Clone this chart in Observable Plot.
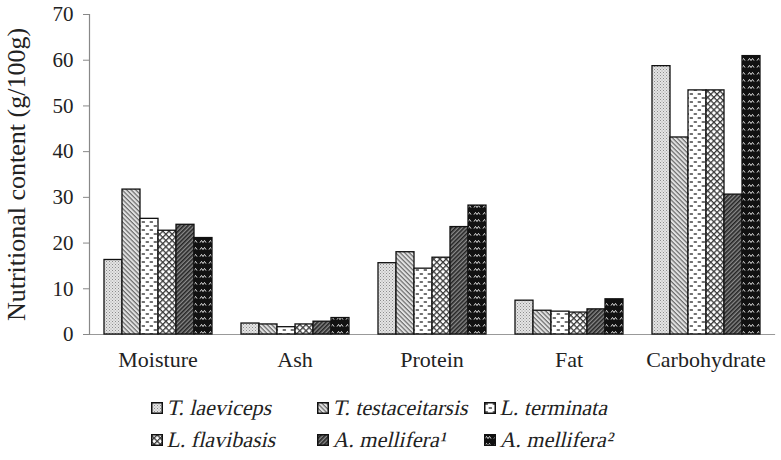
<!DOCTYPE html>
<html>
<head>
<meta charset="utf-8">
<script src="https://cdn.jsdelivr.net/npm/d3@7"></script>
<script src="https://cdn.jsdelivr.net/npm/@observablehq/plot@0.6"></script>
<style>
  html, body { margin: 0; padding: 0; background: #fff; }
  body { width: 781px; height: 460px; overflow: hidden; font-family: "Liberation Serif", "Times New Roman", serif; color: #222; }
  #legend { display: grid; grid-template-columns: 166px 167px 166px; grid-auto-rows: 32px; padding: 12px 0 0 151px; }
  .item { display: flex; align-items: center; font-family: "Liberation Serif", serif; font-size: 22px; white-space: nowrap; }
  .item svg { margin-right: 5px; flex: none; }
  .item span { display: inline-block; transform: skewX(-13deg); }
</style>
</head>
<body>
<svg width="0" height="0" style="position:absolute">
  <defs>
    <pattern id="p1" patternUnits="userSpaceOnUse" width="3" height="3">
      <rect width="3" height="3" fill="#e4e4e4"/>
      <rect x="0" y="0" width="1" height="1" fill="#8c8c8c"/>
      <rect x="1.5" y="1.5" width="1" height="1" fill="#a0a0a0"/>
    </pattern>
    <pattern id="p2" patternUnits="userSpaceOnUse" width="3.2" height="3.2" patternTransform="rotate(45)">
      <rect width="3.2" height="3.2" fill="#e2e2e2"/>
      <rect width="3.2" height="1.2" fill="#6a6a6a"/>
    </pattern>
    <pattern id="p3" patternUnits="userSpaceOnUse" width="8" height="8">
      <rect width="8" height="8" fill="#fff"/>
      <rect x="0.5" y="1.2" width="3.6" height="1.6" rx="0.7" fill="#444"/>
      <rect x="4.5" y="5.2" width="3.6" height="1.6" rx="0.7" fill="#444"/>
    </pattern>
    <pattern id="p4" patternUnits="userSpaceOnUse" width="4.4" height="4.4" patternTransform="rotate(45)">
      <rect width="4.4" height="4.4" fill="#fff"/>
      <rect width="4.4" height="1.3" fill="#3a3a3a"/>
      <rect width="1.3" height="4.4" fill="#3a3a3a"/>
    </pattern>
    <pattern id="p5" patternUnits="userSpaceOnUse" width="3" height="3" patternTransform="rotate(-45)">
      <rect width="3" height="3" fill="#8a8a8a"/>
      <rect width="3" height="1.6" fill="#252525"/>
    </pattern>
    <pattern id="p6" patternUnits="userSpaceOnUse" width="9" height="7">
      <rect width="9" height="7" fill="#111"/>
      <polyline points="1,4.6 2.5,2.4 4,4.6 5.5,2.4 7,4.6" fill="none" stroke="#ddd" stroke-width="1"/>
    </pattern>
  </defs>
</svg>
<div id="chart"></div>
<div id="legend"></div>
<script>
const categories = ["Moisture", "Ash", "Protein", "Fat", "Carbohydrate"];
const species = ["T. laeviceps", "T. testaceitarsis", "L. terminata", "L. flavibasis", "A. mellifera¹", "A. mellifera²"];
const tLaeviceps      = [16.3, 2.4, 15.6, 7.4, 58.7];
const tTestaceitarsis = [31.7, 2.2, 18.0, 5.2, 43.1];
const lTerminata      = [25.3, 1.6, 14.4, 5.0, 53.4];
const lFlavibasis     = [22.7, 2.2, 16.8, 4.8, 53.4];
const aMellifera1     = [24.0, 2.8, 23.5, 5.5, 30.6];
const aMellifera2     = [21.1, 3.6, 28.2, 7.7, 60.9];
const yTicks = [0, 10, 20, 30, 40, 50, 60, 70];
const yLabel = "Nutritional content (g/100g)";

const seriesValues = [tLaeviceps, tTestaceitarsis, lTerminata, lFlavibasis, aMellifera1, aMellifera2];
const patterns = ["url(#p1)", "url(#p2)", "url(#p3)", "url(#p4)", "url(#p5)", "url(#p6)"];

const data = categories.flatMap((c, i) =>
  species.map((s, j) => ({category: c, species: s, value: seriesValues[j][i]})));

const chart = Plot.plot({
  width: 781,
  height: 380,
  marginLeft: 88,
  marginRight: 6,
  marginTop: 14,
  marginBottom: 46,
  style: {fontFamily: "'Liberation Serif', 'Times New Roman', serif", color: "#222", background: "#fff"},
  fx: {domain: categories, paddingInner: 0, paddingOuter: 0, label: null},
  x: {domain: species, paddingInner: 0, paddingOuter: 0.73, axis: null},
  y: {domain: [0, 70], label: null},
  color: {domain: species, range: patterns},
  marks: [
    Plot.frame({anchor: "bottom", facet: "super", stroke: "#999", strokeWidth: 1.2}),
    Plot.frame({anchor: "left", facet: "super", stroke: "#888", strokeWidth: 1.2}),
    Plot.barY(data, {fx: "category", x: "species", y: "value", fill: "species", stroke: "#111", strokeWidth: 1.3}),
    Plot.axisY({ticks: yTicks, tickSize: 6, tickPadding: 10, fontSize: 21, stroke: "#888", fill: "#222", label: null}),
    Plot.axisY({ticks: [], fontSize: 26, fill: "#222",
      label: yLabel, labelAnchor: "center", labelArrow: "none", labelOffset: 83}),
    Plot.axisFx({anchor: "bottom", tickSize: 0, tickPadding: 17, fontSize: 22, fill: "#222", label: null})
  ]
});
document.getElementById("chart").appendChild(chart);

const legend = document.getElementById("legend");
species.forEach((s, i) => {
  const item = document.createElement("div");
  item.className = "item";
  item.innerHTML = `<svg width="12" height="12"><rect x="0.75" y="0.75" width="10.5" height="10.5" fill="${patterns[i]}" stroke="#111" stroke-width="1.5"/></svg><span>${s}</span>`;
  legend.appendChild(item);
});
</script>
</body>
</html>
